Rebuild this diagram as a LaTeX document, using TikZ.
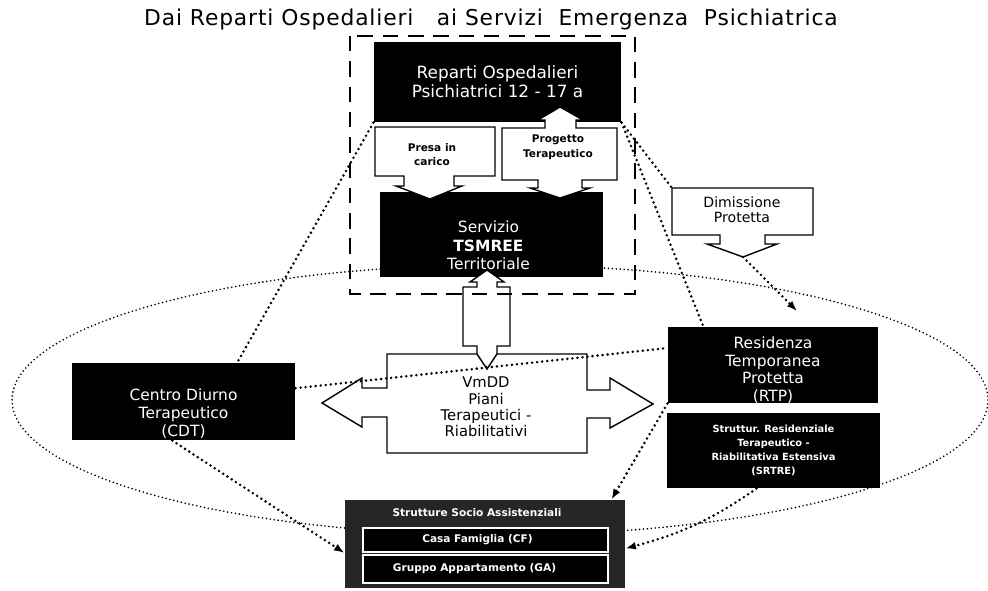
\documentclass[tikz,border=0pt]{standalone}
\usepackage{fontspec}
\setmainfont{DejaVu Sans}
\usetikzlibrary{calc,arrows.meta}
\def\pu{0.025cm}

\begin{document}
\begin{tikzpicture}[x=0.025cm,y=-0.025cm,line width=0.8pt,>={Latex[length=2.2mm]},
  scatola/.style={fill=black,inner sep=0pt},
  testo/.style={text=white,align=center,inner sep=0pt,font=\fontsize{11}{13}\selectfont},
  piccolo/.style={text=white,align=center,inner sep=0pt,font=\bfseries\fontsize{7.5}{10}\selectfont},
  freccia/.style={draw=black,fill=white,line width=1pt,line join=miter},
  nota/.style={align=center,inner sep=0pt,font=\fontsize{7.5}{10}\selectfont},
  punti/.style={line width=2pt,dash pattern=on 0pt off 3.6pt,line cap=round},
  puntini/.style={line width=1.3pt,dash pattern=on 0pt off 2.8pt,line cap=round}]
  \useasboundingbox (0,0) rectangle (988,591);
  % titolo
  \node[anchor=base,font=\fontsize{15.5}{17}\selectfont\addfontfeature{LetterSpace=4}] (titolo) at (491,26)
    {Dai Reparti Ospedalieri\ \ \ ai Servizi\ \ Emergenza\ \ Psichiatrica};
  % ellisse punteggiata
  \draw[puntini] (500,400) ellipse [x radius=488,y radius=135];
  % scatole nere
  \node[scatola,minimum width=247*\pu,minimum height=80*\pu] (reparti) at (497.5,82) {};
  \node[testo,font=\fontsize{12}{13.5}\selectfont] at (reparti) {Reparti Ospedalieri\\Psichiatrici 12 - 17 a};
  \node[scatola,minimum width=223*\pu,minimum height=85*\pu] (servizio) at (491.5,234.5) {};
  \node[testo] at ($(servizio)+(-3,11)$) {Servizio\\{\bfseries TSMREE}\\Territoriale};
  \node[scatola,minimum width=223*\pu,minimum height=77*\pu] (cdt) at (183.5,401.5) {};
  \node[testo] at ($(cdt)+(0,12)$) {Centro Diurno\\Terapeutico\\(CDT)};
  \node[scatola,minimum width=210*\pu,minimum height=76*\pu] (rtp) at (773,365) {};
  \node[testo,font=\fontsize{11}{12.5}\selectfont] at ($(rtp)+(0,5)$) {Residenza\\Temporanea\\Protetta\\(RTP)};
  \node[scatola,minimum width=213*\pu,minimum height=75*\pu] (srtre) at (773.5,450.5) {};
  \node[piccolo,font=\bfseries\fontsize{7}{10}\selectfont] at (srtre) {Struttur. Residenziale\\Terapeutico -\\Riabilitativa Estensiva\\(SRTRE)};
  % strutture socio assistenziali
  \node[scatola,fill=black!85,minimum width=280*\pu,minimum height=88*\pu] (ssa) at (485,544) {};
  \node[piccolo] at (477,513) {Strutture Socio Assistenziali};
  \node[scatola,draw=white,line width=1pt,minimum width=245*\pu,minimum height=24*\pu] (cf) at (485.5,540) {};
  \node[piccolo] at ($(cf)+(-8,0)$) {Casa Famiglia (CF)};
  \node[scatola,draw=white,line width=1pt,minimum width=245*\pu,minimum height=28*\pu] (ga) at (485.5,569) {};
  \node[piccolo] at ($(ga)+(-11,0)$) {Gruppo Appartamento (GA)};
  % frecce bianche
  \draw[freccia] (375,127) -- (495,127) -- (495,176) -- (454,176) -- (454,186) -- (462,186)
    -- (430,199) -- (396,186) -- (404,186) -- (404,176) -- (375,176) -- cycle;
  \node[nota,font=\bfseries\fontsize{7.5}{10}\selectfont] at (432,155) {Presa in\\carico};
  \draw[freccia] (502,128) -- (545,128) -- (545,120) -- (538,120) -- (560,107) -- (583,120)
    -- (576,120) -- (576,128) -- (617,128) -- (617,180) -- (582,180) -- (582,188) -- (590,188)
    -- (560,198) -- (530,188) -- (538,188) -- (538,180) -- (502,180) -- cycle;
  \node[nota,font=\bfseries\fontsize{7.5}{10.5}\selectfont] at (558,147) {Progetto\\Terapeutico};
  \draw[freccia] (672,188) -- (813,188) -- (813,235) -- (765,235) -- (765,244) -- (777,244)
    -- (743,257) -- (707,244) -- (720,244) -- (720,235) -- (672,235) -- cycle;
  \node[nota,font=\fontsize{10}{10.7}\selectfont] at (742,209.5) {Dimissione\\Protetta};
  \draw[freccia] (387,354) -- (477,354) -- (477,346) -- (463,346) -- (463,287) -- (477,287)
    -- (477,282) -- (470,282) -- (487,270) -- (504,282) -- (497,282) -- (497,287) -- (510,287)
    -- (510,346) -- (497,346) -- (497,354) -- (587,354) -- (587,390) -- (610,390) -- (610,378)
    -- (653,404) -- (610,428) -- (610,418) -- (587,418) -- (587,453) -- (387,453) -- (387,417)
    -- (362,417) -- (362,427) -- (322,403) -- (362,378) -- (362,388) -- (387,388) -- cycle;
  \draw[line width=1pt] (477,354) -- (487,369) -- (497,354);
  \node[nota,font=\fontsize{10.5}{11.6}\selectfont] (vmdd) at (486,407)
    {VmDD\\Piani\\Terapeutici -\\Riabilitativi};
  % riquadro tratteggiato
  \draw[line width=2pt,dash pattern=on 11pt off 7pt] (350,36) rectangle (635,294);
  % collegamenti punteggiati
  \coordinate (cdt-n) at ($(cdt.north west)!0.74!(cdt.north east)$);
  \coordinate (cdt-e) at ($(cdt.north east)!0.33!(cdt.south east)$);
  \coordinate (cdt-s) at ($(cdt.south west)!0.45!(cdt.south east)$);
  \coordinate (rtp-n) at ($(rtp.north west)!0.17!(rtp.north east)$);
  \coordinate (rtp-w) at ($(rtp.north west)!0.28!(rtp.south west)$);
  \coordinate (rtp-in) at (797,311);
  \coordinate (dim-tip) at (743,257);
  \coordinate (srtre-s) at ($(srtre.south west)!0.42!(srtre.south east)$);
  \coordinate (ssa-w) at ($(ssa.north west)!0.6!(ssa.south west)$);
  \coordinate (ssa-e) at ($(ssa.north east)!0.55!(ssa.south east)$);
  \coordinate (ssa-n) at ($(ssa.north west)!0.95!(ssa.north east)$);
  \draw[punti] (reparti.south west) -- (cdt-n);
  \draw[punti] (reparti.south east) -- (672,188);
  \draw[punti] (reparti.south east) -- (rtp-n);
  \draw[punti,-{Latex[length=2.6mm]}] (dim-tip) -- (rtp-in);
  \draw[punti] (cdt-e) -- (rtp-w);
  \draw[punti,-{Latex[length=2.6mm]}] (cdt-s) -- (ssa-w);
  \draw[punti,-{Latex[length=2.6mm]}] (srtre-s) to[out=215,in=15] (ssa-e);
  \draw[punti,-{Latex[length=2.6mm]}] (rtp.south west) -- (ssa-n);
\end{tikzpicture}
\end{document}
